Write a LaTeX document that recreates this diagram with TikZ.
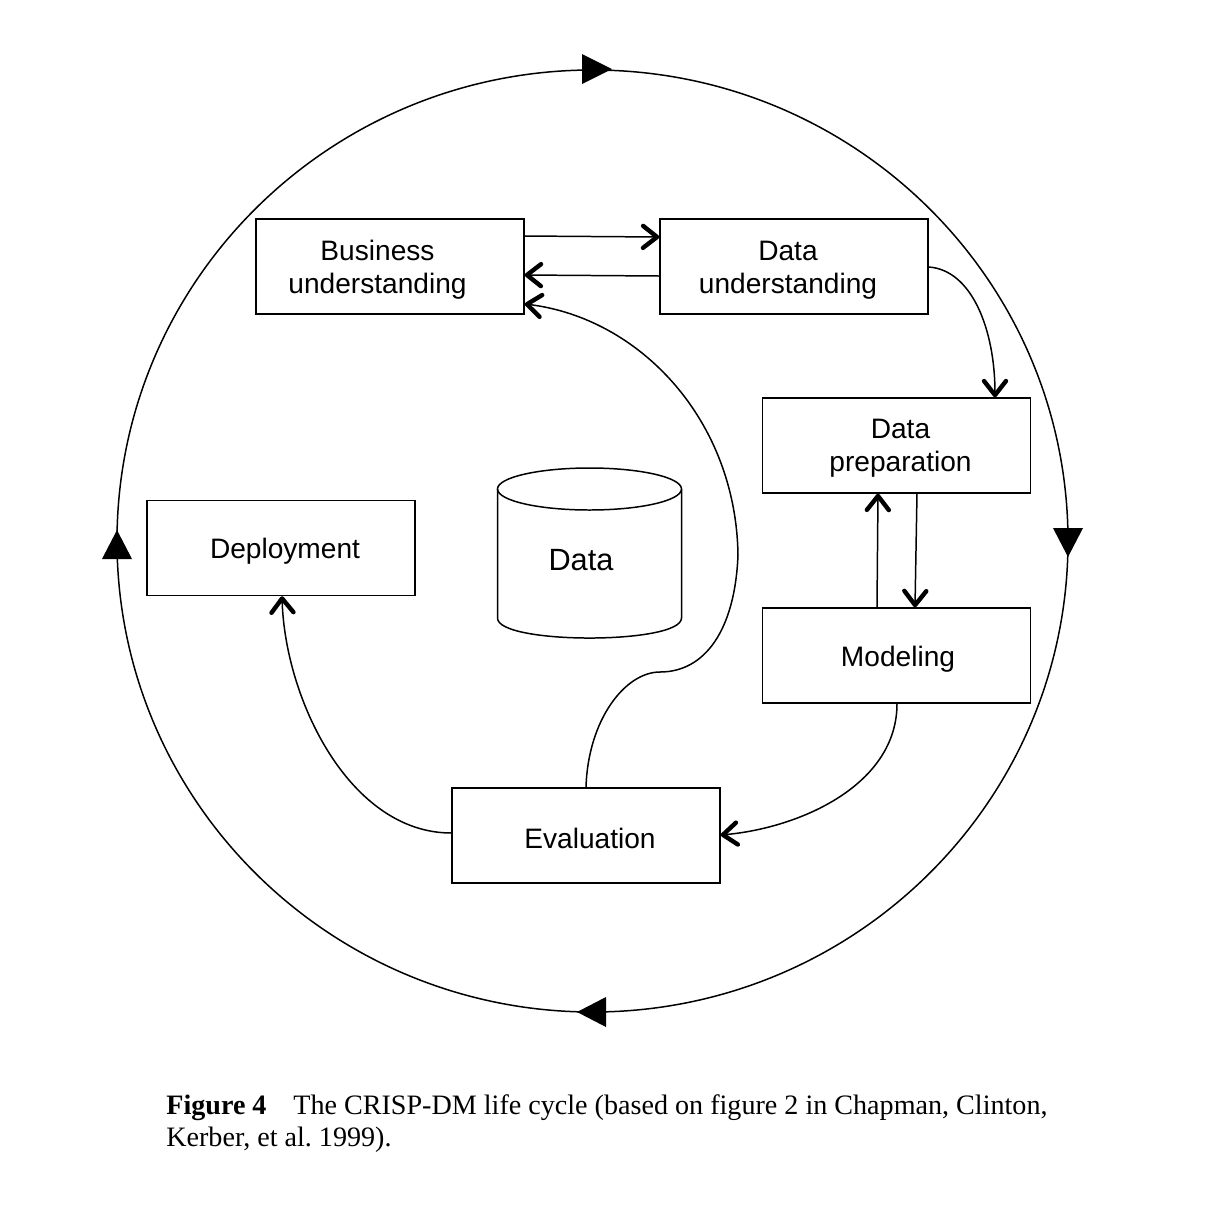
\documentclass[tikz,border=0pt]{standalone}
\usepackage{fontspec}
\setmainfont{Liberation Serif}
\setsansfont{Liberation Sans}
\usetikzlibrary{arrows.meta}
\begin{document}
\begin{tikzpicture}[x=0.02cm,y=-0.02cm,
  box/.style={draw, line width=0.85pt, minimum width=5.36cm, minimum height=1.9cm, inner sep=0},
  lbl/.style={font=\sffamily\fontsize{16}{18.9}\selectfont, align=center, inner sep=0},
  arr/.style={line width=0.85pt, -{Straight Barb[length=8pt,width=12.5pt,line width=2.5pt,round]}},
  capt/.style={anchor=base west, inner sep=0, font=\fontsize{16}{19}\selectfont}]
\useasboundingbox (0,0) rectangle (1222,1228);
\fill[white] (0,0) rectangle (1222,1228);

% outer cycle
\draw[line width=0.85pt] (592.5,541) ellipse [x radius=475.5, y radius=471];
\fill (582,54) -- (612,69) -- (582,84) -- cycle;
\fill (1053,528) -- (1083,528) -- (1068,557) -- cycle;
\fill (606,997) -- (606,1027) -- (577,1012) -- cycle;
\fill (102,559) -- (132,559) -- (117,530) -- cycle;

% boxes
\node[box] (bu) at (390,266.5) {};
\node[lbl] (tbu) at (377.5,270) {Business\\understanding};
\node[box] (du) at (794,266.5) {};
\node[lbl] (tdu) at (788,270) {Data\\understanding};
\node[box] (dp) at (896.5,445.5) {};
\node[lbl] (tdp) at (900.5,448) {Data\\preparation};
\node[box] (mo) at (896.5,655.5) {};
\node[lbl] (tmo) at (898,659) {Modeling};
\node[box] (ev) at (586,835.5) {};
\node[lbl] (tev) at (590,838) {Evaluation};
\node[box] (de) at (281,548) {};
\node[lbl] (tde) at (285,551) {Deployment};

% data cylinder
\draw[line width=0.85pt] (589.5,489) ellipse [x radius=92, y radius=21];
\draw[line width=0.85pt] (497.5,489) -- (497.5,618) .. controls (497.5,644.7) and (681.5,644.7) .. (681.5,618) -- (681.5,489);
\node[font=\sffamily\fontsize{17.5}{20}\selectfont, inner sep=0] (data) at (581,560) {Data};

% connectors
\draw[arr] (bu.east |- 0,236) -- (du.west |- 0,237);
\draw[arr] (du.west |- 0,276) -- (bu.east |- 0,275);
\draw[arr] (ev.north -| 586,0) .. controls (588,720) and (625,672) .. (660,672)
  .. controls (705,672) and (735,630) .. (738,555)
  .. controls (736,420) and (640,318) .. (bu.east |- 0,304);
\draw[arr] (du.east |- 0,267) .. controls (972,270) and (995,330) .. (dp.north -| 995,0);
\draw[arr] (mo.north -| 877,0) -- (dp.south -| 878,0);
\draw[arr] (dp.south -| 917,0) -- (mo.north -| 915,0);
\draw[arr] (mo.south -| 897,0) .. controls (897,785) and (800,828) .. (ev.east |- 0,835);
\draw[arr] (ev.west |- 0,833) .. controls (350,833) and (285,700) .. (de.south -| 282,0);

% caption
\node[capt, font=\fontsize{16}{19}\selectfont\bfseries] (fig) at (166,1114) {Figure 4};
\node[capt] (cap1) at (293,1114) {The CRISP-DM life cycle (based on figure 2 in Chapman, Clinton,};
\node[capt] (cap2) at (166,1146) {Kerber, et al.\ 1999).};
\end{tikzpicture}
\end{document}
